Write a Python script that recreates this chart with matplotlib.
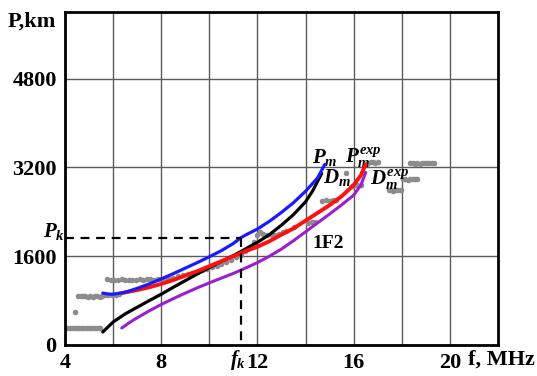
import matplotlib
matplotlib.use("Agg")
import matplotlib.pyplot as plt

# ---- data ----
pm_f = [5.57, 5.8, 6.0, 6.5, 7.0, 7.5, 8.0, 8.5, 9.0, 9.5, 10.0, 10.5, 11.0, 11.3, 11.5,
        12.0, 12.5, 13.0, 13.5, 14.0, 14.5, 14.8]
pm_P = [935, 918, 915, 950, 1020, 1100, 1190, 1285, 1385, 1485, 1590, 1700, 1830, 1930, 1980,
        2090, 2230, 2390, 2565, 2770, 3010, 3254]

dm_f = [5.57, 5.8, 6.0, 6.5, 7.0, 7.5, 8.0, 8.5, 9.0, 9.5, 10.0, 10.5, 11.0, 11.5, 12.0,
        12.5, 13.0, 13.5, 14.0, 14.3, 14.67]
dm_P = [234, 330, 414, 560, 680, 800, 915, 1040, 1160, 1280, 1395, 1505, 1610, 1730, 1850,
        1990, 2160, 2350, 2580, 2780, 3092]

pmexp_f = [6.36, 7.0, 7.5, 8.0, 8.5, 9.0, 9.5, 10.0, 10.5, 11.0, 11.5, 12.0, 12.5, 13.0,
           13.5, 14.0, 14.5, 15.0, 15.5, 16.0, 16.3, 16.5]
pmexp_P = [935, 990, 1040, 1100, 1170, 1250, 1330, 1420, 1510, 1600, 1690, 1770, 1870, 1990,
           2100, 2240, 2380, 2520, 2680, 2880, 3060, 3254]

dmexp_f = [6.36, 6.7, 7.0, 7.5, 8.0, 8.5, 9.0, 9.5, 10.0, 10.5, 11.0, 11.5, 12.0, 12.5,
           13.0, 13.5, 14.0, 14.5, 15.0, 15.5, 16.0, 16.3, 16.5]
dmexp_P = [306, 410, 490, 615, 730, 835, 935, 1030, 1120, 1205, 1290, 1385, 1485, 1600,
           1730, 1880, 2040, 2200, 2360, 2525, 2700, 2880, 3110]

gray_f = [4.1, 4.2, 4.3, 4.4, 4.5, 4.6, 4.7, 4.8, 4.9, 5.0, 5.1, 5.2, 5.3, 5.4, 5.45,
          4.4,
          4.55, 4.65, 4.75, 4.85, 4.95, 5.05, 5.15, 5.25, 5.35, 5.45, 5.55,
          5.75, 5.9, 6.05, 6.2, 6.35, 6.5, 6.65, 6.8, 6.95, 7.1, 7.25, 7.4, 7.55, 7.7, 7.85,
          8.0, 8.15,
          5.65, 5.8, 5.95, 6.1, 6.25,
          8.3, 8.5, 8.7, 8.9, 9.1, 9.3, 9.5, 9.7, 9.9, 10.1, 10.3, 10.5, 10.7, 10.9, 11.1,
          11.3, 11.5, 11.7, 11.85, 12.0,
          12.1, 12.25, 12.4, 12.6, 12.75, 12.9, 13.05, 13.2, 13.5, 14.1, 14.25, 14.4,
          14.7, 14.85, 15.0, 15.15, 15.25, 15.7, 15.95, 16.05, 16.15, 16.3,
          16.6, 16.7, 16.8, 16.9, 17.0, 17.45, 17.55, 17.65, 17.75, 17.85, 17.95,
          18.05, 18.15, 18.25, 18.35, 18.45, 18.55, 18.65,
          18.35, 18.45, 18.55, 18.65, 18.75, 18.85, 18.95, 19.05, 19.15, 19.25, 19.35]
gray_P = [306, 300, 308, 306, 302, 310, 306, 300, 304, 306, 300, 306, 310, 304, 306,
          594,
          885, 890, 875, 880, 870, 880, 865, 880, 875, 870, 890,
          1190, 1172, 1180, 1176, 1185, 1172, 1180, 1170, 1180, 1186, 1176, 1182, 1190, 1178,
          1186, 1195, 1205,
          905, 895, 900, 905, 910,
          1200, 1215, 1235, 1255, 1275, 1300, 1320, 1345, 1375, 1400, 1430, 1465, 1500, 1540,
          1580, 1630, 1690, 1760, 1850, 1980,
          2030, 2000, 1990, 1985, 1978, 2000, 2030, 2060, 2120, 2205, 2215, 2220,
          2600, 2610, 2600, 2612, 2605, 3092, 2870, 2880, 2875, 2885,
          3285, 3300, 3290, 3280, 3292, 2786, 2790, 2782, 2790, 2785, 2790,
          2984, 2990, 2980, 2988, 2992, 2984, 2990,
          3272, 3280, 3270, 3276, 3266, 3275, 3280, 3284, 3278, 3285, 3280]

fk = 11.3
Pk = 1930

x_ticks = [4, 8, 12, 16, 20]
x_ticklabels = ["4", "8", "12", "16", "20"]
y_ticks = [0, 1600, 3200, 4800]
y_ticklabels = ["0", "1600", "3200", "4800"]

# ---- figure ----
plt.rcParams['font.family'] = ['Liberation Serif', 'DejaVu Serif']
plt.rcParams['font.weight'] = 'bold'
plt.rcParams['mathtext.fontset'] = 'custom'
plt.rcParams['mathtext.it'] = 'Liberation Serif:italic:bold'
plt.rcParams['mathtext.rm'] = 'Liberation Serif:bold'
plt.rcParams['mathtext.bf'] = 'Liberation Serif:bold'

fig = plt.figure(figsize=(5.37, 3.76), dpi=100)
ax = fig.add_axes([65/537, 1-345/376, (498-65)/537, (345-12)/376])
ax.set_xlim(4, 22)
ax.set_ylim(0, 6000)

ax.set_xticks(x_ticks)
ax.set_xticklabels(x_ticklabels)
ax.set_xticks([6, 10, 14, 18], minor=True)
ax.set_yticks(y_ticks)
ax.set_yticklabels(y_ticklabels)
ax.tick_params(axis='both', which='both', length=0, labelsize=16, pad=6)
for lab in ax.get_xticklabels() + ax.get_yticklabels():
    lab.set_fontweight('bold')
ax.grid(True, which='both', color='#5a5a5a', linewidth=1.0)
ax.set_axisbelow(True)
for s in ax.spines.values():
    s.set_linewidth(2.0)
    s.set_color('black')

ax.plot(gray_f, gray_P, 'o', color='#8c8c8c', markersize=4.0, markeredgewidth=0, zorder=2)
ax.plot(dmexp_f, dmexp_P, color='#9a1fd0', lw=2.2, zorder=3, solid_capstyle='round')
ax.plot(dm_f, dm_P, color='black', lw=2.3, zorder=3, solid_capstyle='round')
ax.plot(pmexp_f, pmexp_P, color='#ff1010', lw=2.8, zorder=4, solid_capstyle='round')
ax.plot(pm_f, pm_P, color='#1a1aff', lw=2.3, zorder=4, solid_capstyle='round')

ax.plot([4, fk], [Pk, Pk], color='black', lw=1.6, ls=(0, (4, 3)), zorder=5)
ax.plot([fk, fk], [Pk, 0], color='black', lw=1.6, ls=(0, (4, 3)), zorder=5)

ax.text(14.27, 3280, r'$P_m$', fontsize=15, ha='left', va='baseline')
ax.text(14.72, 2920, r'$D_m$', fontsize=15, ha='left', va='baseline')
ax.text(15.62, 3280, r'$P_m^{exp}$', fontsize=15, ha='left', va='baseline')
ax.text(16.68, 2880, r'$D_m^{exp}$', fontsize=15, ha='left', va='baseline')
ax.text(14.27, 1748, '1F2', fontsize=14, fontweight='bold', ha='left', va='baseline')

fig.text(8/537, 1-22/376, 'P,km', fontsize=16, fontweight='bold', ha='left', va='center')
fig.text(43/537, 1-232/376, r'$P_k$', fontsize=15, ha='left', va='center')
fig.text(246/537, 1-360/376, r'$f_k$', fontsize=15, ha='right', va='center')
fig.text(468/537, 1-360/376, 'f, MHz', fontsize=16, fontweight='bold', ha='left', va='center')

fig.savefig('out.png', dpi=100)
